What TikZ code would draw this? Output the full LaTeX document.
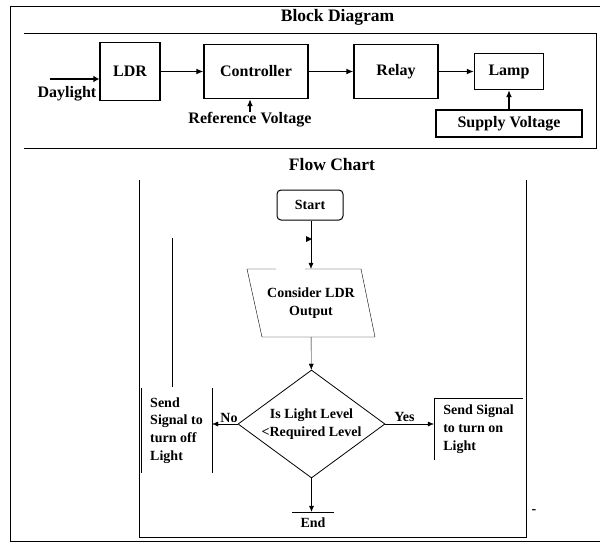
\documentclass[tikz,border=0pt]{standalone}
\usepackage{fontspec}
\setmainfont{Liberation Serif}
\usetikzlibrary{arrows.meta,shapes.geometric}
\newcommand{\hdr}{\fontsize{17.5}{20}\selectfont}
\newcommand{\blk}{\fontsize{16}{18}\selectfont}
\newcommand{\flw}{\fontsize{14}{17.8}\selectfont}

\begin{document}
\begin{tikzpicture}[
  x=1pt, y=-1pt,
  >={Latex[length=6pt,width=5pt]},
  box/.style={draw, line width=1.4pt, font=\blk\bfseries, inner sep=0pt},
  title/.style={font=\hdr\bfseries, inner sep=0.5pt},
  lbl/.style={font=\flw\bfseries, inner sep=0.5pt},
  blbl/.style={font=\blk\bfseries, inner sep=0.5pt},
  term/.style={draw, rounded corners=4pt, line width=1pt, minimum width=66, minimum height=30, font=\flw\bfseries},
  dec/.style={draw, diamond, aspect=1.36, inner sep=0pt, minimum width=147, minimum height=108, align=center, font=\flw\bfseries, line width=0.8pt},
  thk/.style={line width=1.3pt, -{Latex[length=7pt,width=6pt]}},
]
  \useasboundingbox (0,0) rectangle (600,544);
  % ---------------- frames
  \draw (603,6) -- (10,6) -- (10,541.5) -- (603,541.5);
  \draw (24,33) -- (596,33) -- (596,148) -- (24,148);
  \draw (139,180) -- (139,537) -- (526,537) -- (526,180);
  \node[title] (bdt) at (337.5,17) {Block Diagram};
  \node[title] (fct) at (332,165) {Flow Chart};

  % ---------------- block diagram
  \node[box, minimum width=60, minimum height=58] (ldr) at (130,71.5) {LDR};
  \node[box, minimum width=104, minimum height=54] (ctrl) at (256,71.5) {Controller};
  \node[box, minimum width=84, minimum height=54] (relay) at (396,71.5) {Relay};
  \node[box, minimum width=69, minimum height=36] (lamp) at (509,71.5) {Lamp};
  \node[box, minimum width=146, minimum height=27] (supply) at (509,123.5) {Supply Voltage};
  \foreach \a/\b in {ldr/ctrl, ctrl/relay, relay/lamp} \draw[thk] (\a) -- (\b);
  \draw[thk] (supply) -- (lamp);
  \coordinate (sun) at (50,79);
  \draw[line width=2.6pt, -{Latex[length=6pt,width=7pt]}] (sun) -- (sun -| ldr.west);
  \node[blbl, anchor=east] (day) at (97,93.5) {Daylight};
  \node[blbl] (refv) at (250,120) {Reference Voltage};
  \draw[thk] (refv.north) -- (refv.north |- ctrl.south);

  % ---------------- flow chart
  \node[term] (start) at (310,205) {Start};
  \node[lbl, align=center, minimum width=100, minimum height=68] (io) at (311,303) {Consider LDR\\Output};
  \draw (276,269) -- (247,269) -- (262,337) -- (375,337) -- (361,269) -- (305,269);
  \draw[->] (start.south -| io.north) -- (io.north);
  \fill (306,236) -- (312,239) -- (306,242) -- cycle;
  \node[dec] (test) at (311.5,424) {Is Light Level\\{<}Required Level};
  \draw[->] (io) -- (test);

  \node[lbl, align=left, minimum width=71, minimum height=85] (off) at (176.5,430.5)
    {Send\\Signal to\\turn off\\Light};
  \draw (off.north west) -- (off.south west);
  \draw (off.north east) -- (off.south east);
  \draw (172,238) -- (172,387);
  \node[lbl, align=left, minimum width=89, minimum height=62] (on) at (478.5,429)
    {Send Signal\\to turn on\\Light};
  \draw (on.south west) -- (on.north west) -- (on.north east);
  \draw[->] (test.west) -- (test.west -| off.east);
  \draw[->] (test.east) -- (test.east -| on.west);
  \node[lbl] (no) at (229,418) {No};
  \node[lbl] (yes) at (404.5,417) {Yes};

  \node[lbl, minimum width=42, minimum height=22] (end) at (313,523) {End};
  \draw (end.north west) -- (end.north east);
  \draw[->] (test.south) -- (test.south |- end.north);
  \node[lbl] (dash) at (534,512) {-};
\end{tikzpicture}
\end{document}
